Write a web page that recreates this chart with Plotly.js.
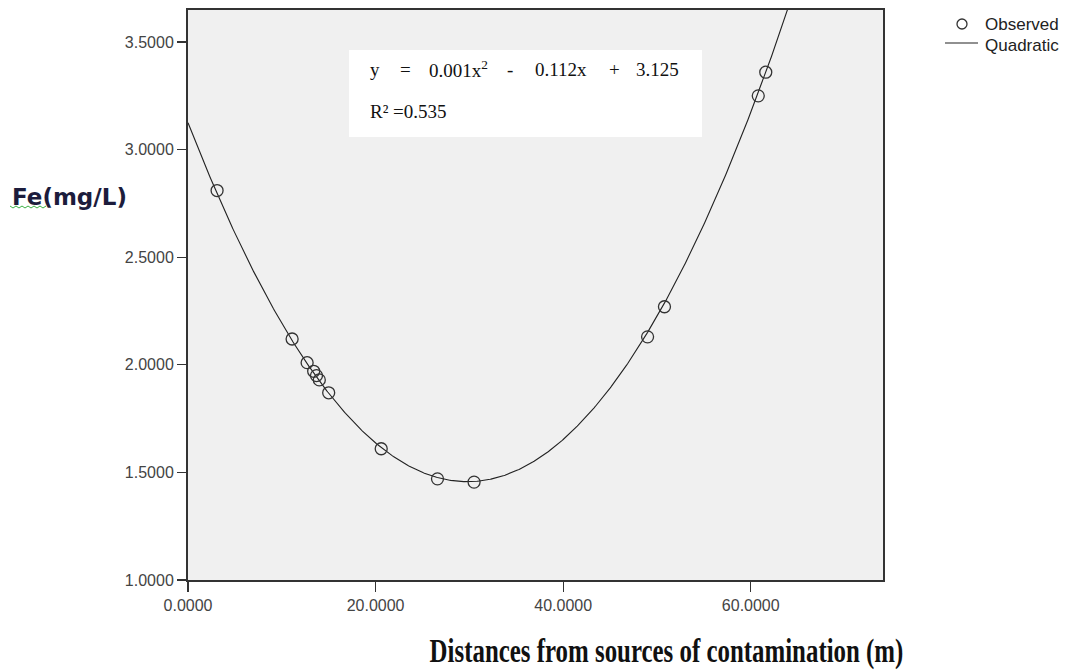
<!DOCTYPE html>
<html><head><meta charset="utf-8">
<script src="https://cdn.plot.ly/plotly-3.0.1.min.js"></script>
<style>html,body{margin:0;padding:0;background:#fff}#chart{width:1069px;height:672px}</style>
</head><body><div id="chart"></div>
<script>
// Observed data (distance m, Fe mg/L)
const distance = [3.1, 11.1, 12.7, 13.4, 13.7, 14.0, 15.0, 20.6, 26.6, 30.5, 49.0, 50.8, 60.8, 61.6];
const fe =       [2.81, 2.12, 2.01, 1.97, 1.95, 1.93, 1.87, 1.61, 1.47, 1.455, 2.13, 2.27, 3.25, 3.36];
// Quadratic fit coefficients [c, b, a]  y = a x^2 + b x + c
const quadCoef = [3.125, -0.112, 0.00188];
const xTicks = [0, 20, 40, 60];
const xTickText = ["0.0000", "20.0000", "40.0000", "60.0000"];
const yTicks = [1.0, 1.5, 2.0, 2.5, 3.0, 3.5];
const yTickText = ["1.0000", "1.5000", "2.0000", "2.5000", "3.0000", "3.5000"];
const eqTokens = ["y", "=", "0.001x<sup>2</sup>", "-", "0.112x", "+", "3.125"];

const fitX = [], fitY = [];
for (let i = 0; i <= 740; i++) { const x = i / 10; fitX.push(x); fitY.push(quadCoef[0] + quadCoef[1]*x + quadCoef[2]*x*x); }

// pixel helpers for paper placement
const L = 188, R = 883, T = 10, B = 580;
const px = v => (v - L) / (R - L);
const py = v => (B - v) / (B - T);

const tickFont = {family: 'Liberation Sans, Arial, sans-serif', size: 16, color: '#444'};
const serif = {family: 'Liberation Serif, Times New Roman, serif', size: 19, color: '#111'};
const sans = {family: 'Liberation Sans, Arial, sans-serif', size: 17, color: '#222'};

const data = [
  {x: fitX, y: fitY, mode: 'lines', type: 'scatter', line: {color: '#222', width: 1.1}, name: 'Quadratic', hoverinfo: 'skip'},
  {x: distance, y: fe, mode: 'markers', type: 'scatter', name: 'Observed',
   marker: {symbol: 'circle-open', size: 12, color: '#333', line: {width: 1.3, color: '#333'}}}
];

const eqX = [368, 398, 427, 505, 533, 607, 634];
const annotations = eqTokens.map((t, i) => ({xref: 'paper', yref: 'paper', x: px(eqX[i]), y: py(69), xanchor: 'left', yanchor: 'middle',
  showarrow: false, text: t, font: serif}));
annotations.push(
  {xref: 'paper', yref: 'paper', x: px(368), y: py(111), xanchor: 'left', yanchor: 'middle', showarrow: false,
   text: 'R² =0.535', font: serif},
  {xref: 'paper', yref: 'paper', x: px(983), y: py(25), xanchor: 'left', yanchor: 'middle', showarrow: false,
   text: 'Observed', font: sans},
  {xref: 'paper', yref: 'paper', x: px(983), y: py(46), xanchor: 'left', yanchor: 'middle', showarrow: false,
   text: 'Quadratic', font: sans},
  {xref: 'paper', yref: 'paper', x: px(10), y: py(197), xanchor: 'left', yanchor: 'middle', showarrow: false,
   text: '<b>Fe(mg/L)</b>', font: {family: 'DejaVu Sans, Verdana, sans-serif', size: 23, color: '#1c1c3c'}},
  {xref: 'paper', yref: 'paper', x: px(906), y: py(651), xanchor: 'right', yanchor: 'middle', showarrow: false,
   text: '<b>Distances from sources of contamination (m)</b>', font: {family: 'Liberation Serif, Times New Roman, serif', size: 34, color: '#111'}}
);

// green squiggle under "Fe"
let sq = 'M ' + px(10) + ' ' + py(206);
for (let k = 1; k <= 12; k++) sq += ' L ' + px(10 + k * 3) + ' ' + py(k % 2 ? 208 : 206);

const layout = {
  width: 1069, height: 672,
  paper_bgcolor: '#fff', plot_bgcolor: '#f0f0f0',
  margin: {l: L, r: 1069 - R, t: T, b: 672 - B},
  showlegend: false,
  xaxis: {range: [0, 74.1], tickvals: xTicks, ticktext: xTickText, ticks: 'outside', ticklen: 10, tickwidth: 1.3, tickcolor: '#333',
          showgrid: false, zeroline: false, showline: true, linecolor: '#333', linewidth: 2, mirror: true,
          tickfont: tickFont},
  yaxis: {range: [1.0, 3.649], tickvals: yTicks, ticktext: yTickText, ticks: 'outside', ticklen: 9, tickwidth: 1.3, tickcolor: '#333',
          showgrid: false, zeroline: false, showline: true, linecolor: '#333', linewidth: 2, mirror: true,
          tickfont: tickFont},
  shapes: [
    {type: 'rect', xref: 'paper', yref: 'paper', x0: px(349), x1: px(702), y0: py(137), y1: py(50),
     fillcolor: '#fff', line: {width: 0}, layer: 'above'},
    {type: 'circle', xref: 'paper', yref: 'paper', x0: px(957), x1: px(967), y0: py(29), y1: py(19),
     line: {color: '#333', width: 1.3}},
    {type: 'line', xref: 'paper', yref: 'paper', x0: px(945), x1: px(978), y0: py(43), y1: py(43),
     line: {color: '#222', width: 1.1}},
    {type: 'path', xref: 'paper', yref: 'paper', path: sq, line: {color: '#3cb043', width: 1}}
  ],
  annotations: annotations
};
Plotly.newPlot('chart', data, layout, {staticPlot: true}).then(gd => {
  // condense the x-axis title horizontally to match the narrow typeface
  const texts = gd.querySelectorAll('.annotation-text');
  const t = texts[texts.length - 1];
  const bb = t.getBBox();
  const s = 474 / bb.width;
  const right = bb.x + bb.width;
  t.setAttribute('transform', 'matrix(' + s + ',0,0,1,' + (right * (1 - s)) + ',0)');
});
</script></body></html>
